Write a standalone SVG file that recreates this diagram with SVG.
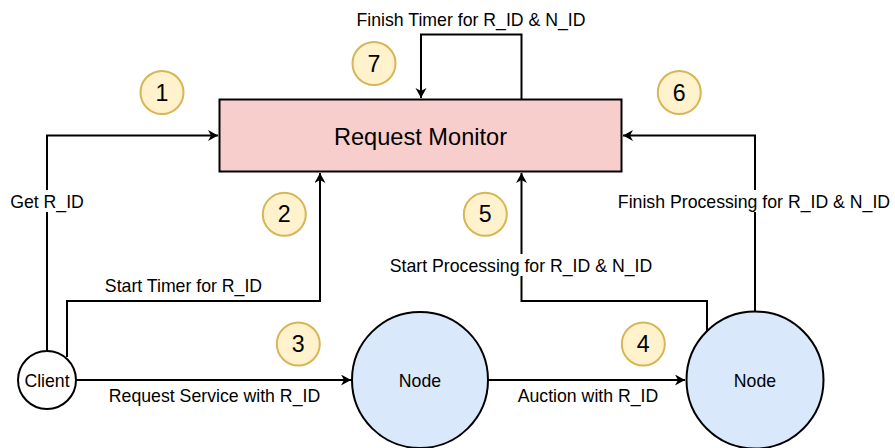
<svg xmlns="http://www.w3.org/2000/svg" width="895" height="448" viewBox="0 0 895 448">
  <style>
    .edge { fill: none; stroke: #000; stroke-width: 2; }
    .lbl { font-family: "Liberation Sans", Arial, sans-serif; font-size: 17.7px; fill: #000; text-anchor: middle; }
    .title { font-family: "Liberation Sans", Arial, sans-serif; font-size: 23.6px; fill: #000; text-anchor: middle; }
    .badge circle { fill: #fff2cc; stroke: #d6b656; stroke-width: 2; }
    .badge text { font-family: "Liberation Sans", Arial, sans-serif; font-size: 23.2px; fill: #000; text-anchor: middle; }
    .node circle { fill: #dae8fc; stroke: #000; stroke-width: 2; }
    .bg { fill: #fff; }
  </style>
  <defs>
    <marker id="arrow" markerUnits="userSpaceOnUse" markerWidth="12" markerHeight="12" refX="10" refY="5.5" orient="auto">
      <path d="M0,0 L10,5.5 L0,11 L3,5.5 z" fill="#000"/>
    </marker>
  </defs>
  <rect width="895" height="448" fill="#fff"/>

  <!-- connectors -->
  <g id="edges">
    <path id="e-get" class="edge" d="M47,351 V135.5 H218" marker-end="url(#arrow)"/>
    <path id="e-start-timer" class="edge" d="M67,357 V301 H320 V173" marker-end="url(#arrow)"/>
    <path id="e-request" class="edge" d="M76,380 H351" marker-end="url(#arrow)"/>
    <path id="e-auction" class="edge" d="M488,380 H685" marker-end="url(#arrow)"/>
    <path id="e-start-proc" class="edge" d="M707,331 V301 H521.5 V173" marker-end="url(#arrow)"/>
    <path id="e-finish-proc" class="edge" d="M755,312 V135.5 H623" marker-end="url(#arrow)"/>
    <path id="e-finish-timer" class="edge" d="M521.5,99 V34.5 H421 V98" marker-end="url(#arrow)"/>

    <!-- labels -->
    <text class="lbl" x="471" y="26">Finish Timer for R_ID &amp; N_ID</text>
    <rect class="bg" x="9" y="190" width="76" height="22"/>
    <text class="lbl" x="47" y="208">Get R_ID</text>
    <text class="lbl" x="183.5" y="291.5">Start Timer for R_ID</text>
    <text class="lbl" x="214.5" y="402">Request Service with R_ID</text>
    <text class="lbl" x="588" y="402">Auction with R_ID</text>
    <rect class="bg" x="386" y="254" width="270" height="22"/>
    <text class="lbl" x="521" y="272">Start Processing for R_ID &amp; N_ID</text>
    <rect class="bg" x="615" y="190" width="280" height="22"/>
    <text class="lbl" x="754" y="207.5">Finish Processing for R_ID &amp; N_ID</text>
  </g>

  <!-- request monitor -->
  <g id="request-monitor">
    <rect x="219.5" y="99.5" width="402" height="72" fill="#f8cecc" stroke="#000" stroke-width="2"/>
    <text class="title" x="420.5" y="144.5">Request Monitor</text>
  </g>

  <!-- client -->
  <g id="client" class="node">
    <circle cx="47" cy="380" r="29" style="fill:#fff"/>
    <text class="lbl" x="47" y="386.5">Client</text>
  </g>

  <!-- nodes -->
  <g id="node-a" class="node">
    <circle cx="420" cy="380" r="68"/>
    <text class="lbl" x="420" y="386.5">Node</text>
  </g>
  <g id="node-b" class="node">
    <circle cx="755" cy="380" r="68.5"/>
    <text class="lbl" x="755" y="386.5">Node</text>
  </g>

  <!-- step badges -->
  <g id="badge-1" class="badge"><circle cx="162" cy="92.5" r="21.5"/><text x="162" y="100.5">1</text></g>
  <g id="badge-2" class="badge"><circle cx="284.3" cy="214.3" r="21.5"/><text x="284.3" y="222.3">2</text></g>
  <g id="badge-3" class="badge"><circle cx="298.3" cy="344" r="21.5"/><text x="298.3" y="352">3</text></g>
  <g id="badge-4" class="badge"><circle cx="643.3" cy="344" r="21.5"/><text x="643.3" y="352">4</text></g>
  <g id="badge-5" class="badge"><circle cx="485.3" cy="214.3" r="21.5"/><text x="485.3" y="222.3">5</text></g>
  <g id="badge-6" class="badge"><circle cx="679.3" cy="92.5" r="21.5"/><text x="679.3" y="100.5">6</text></g>
  <g id="badge-7" class="badge"><circle cx="374" cy="63.5" r="21.5"/><text x="374" y="71.5">7</text></g>
</svg>
